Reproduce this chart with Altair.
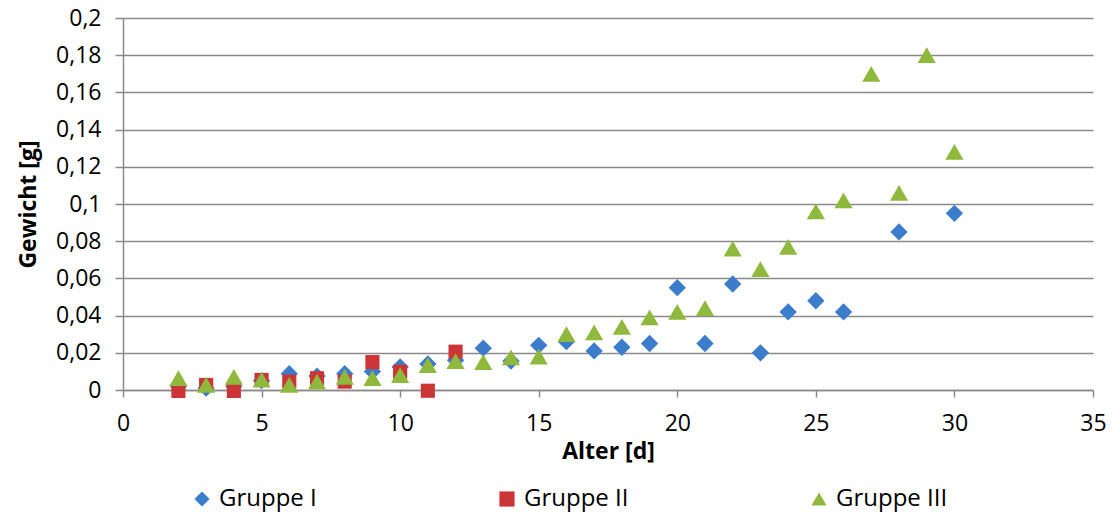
import altair as alt
import pandas as pd

# Gruppe I (blue diamonds)
g1_x = [2, 3, 4, 5, 6, 7, 8, 9, 10, 11, 12, 13, 14, 15, 16, 17, 18, 19, 20, 21, 22, 23, 24, 25, 26, 28, 30]
g1_y = [0.002, 0.001, 0.002, 0.005, 0.0088, 0.0075, 0.0088, 0.010, 0.0124, 0.014, 0.016, 0.0225, 0.0156, 0.024, 0.026,
        0.021, 0.023, 0.025, 0.055, 0.025, 0.057, 0.020, 0.042, 0.048, 0.042, 0.085, 0.095]

# Gruppe II (red squares)
g2_x = [2, 3, 4, 5, 6, 7, 8, 9, 10, 11, 12]
g2_y = [-0.0005, 0.0027, -0.0005, 0.0054, 0.0045, 0.0063, 0.0045, 0.015, 0.0098, -0.0004, 0.0206]

# Gruppe III (green triangles)
g3_x = [2, 3, 4, 5, 6, 7, 8, 9, 10, 11, 12, 13, 14, 15, 16, 17, 18, 19, 20, 21, 22, 23, 24, 25, 26, 27, 28, 29, 30]
g3_y = [0.0064, 0.0027, 0.007, 0.0056, 0.0027, 0.0045, 0.007, 0.0064, 0.008, 0.0134, 0.0155, 0.015, 0.0175, 0.018,
        0.030, 0.031, 0.034, 0.039, 0.042, 0.044, 0.076, 0.065, 0.077, 0.096, 0.102, 0.170, 0.106, 0.180, 0.128]

groups = ["Gruppe I", "Gruppe II", "Gruppe III"]
colors = ["#3C7DCB", "#CC3535", "#8FB93D"]
shapes = ["diamond", "square", "triangle-up"]
sizes = [300, 200, 330]

rows = []
for i, (name, xs, ys) in enumerate(zip(groups, [g1_x, g2_x, g3_x], [g1_y, g2_y, g3_y])):
    for x, y in zip(xs, ys):
        rows.append({"Alter": x, "Gewicht": y, "Gruppe": name, "order": i, "sz": sizes[i]})
df = pd.DataFrame(rows)

FONT = "Open Sans"
GRAY = "#8A8A8A"

chart = alt.Chart(df).mark_point(filled=True, opacity=1, strokeWidth=0).encode(
    x=alt.X("Alter:Q", title="Alter [d]",
            scale=alt.Scale(domain=[0, 35], nice=False),
            axis=alt.Axis(values=[0, 5, 10, 15, 20, 25, 30, 35], grid=False, labelFlush=False,
                          tickSize=7, tickColor=GRAY, domainColor=GRAY, domainWidth=1.5,
                          tickWidth=1.5, labelPadding=15, labelFontSize=23, labelColor="#000000",
                          titleFontSize=23, titleFontWeight="bold", titlePadding=5, titleColor="#000000")),
    y=alt.Y("Gewicht:Q", title="Gewicht [g]",
            scale=alt.Scale(domain=[0, 0.2], nice=False, zero=False),
            axis=alt.Axis(values=[0, 0.02, 0.04, 0.06, 0.08, 0.1, 0.12, 0.14, 0.16, 0.18, 0.2],
                          labelExpr="replace(format(datum.value, '~g'), '.', ',')",
                          grid=True, gridColor=GRAY, gridWidth=1.5,
                          tickSize=8, tickColor=GRAY, tickWidth=1.5,
                          domainColor=GRAY, domainWidth=1.5,
                          labelPadding=14, labelFontSize=23, labelColor="#000000",
                          titleFontSize=23, titleFontWeight="bold", titlePadding=15, titleColor="#000000")),
    color=alt.Color("Gruppe:N", scale=alt.Scale(domain=groups, range=colors),
                    legend=alt.Legend(title=None, orient="none", legendX=67, legendY=469,
                                      direction="horizontal", columns=3, columnPadding=178,
                                      labelFontSize=24, labelColor="#000000", symbolSize=230,
                                      symbolOffset=0, labelOffset=5)),
    shape=alt.Shape("Gruppe:N", scale=alt.Scale(domain=groups, range=shapes)),
    size=alt.Size("sz:Q", scale=None, legend=None),
    order=alt.Order("order:Q"),
).properties(
    width=970, height=372,
    padding={"left": 123, "top": 18, "right": 21, "bottom": 125},
    autosize="none",
).configure(
    font=FONT,
).configure_view(
    stroke=None,
)

chart.save("out.html", embed_options={"renderer": "svg", "actions": False})
